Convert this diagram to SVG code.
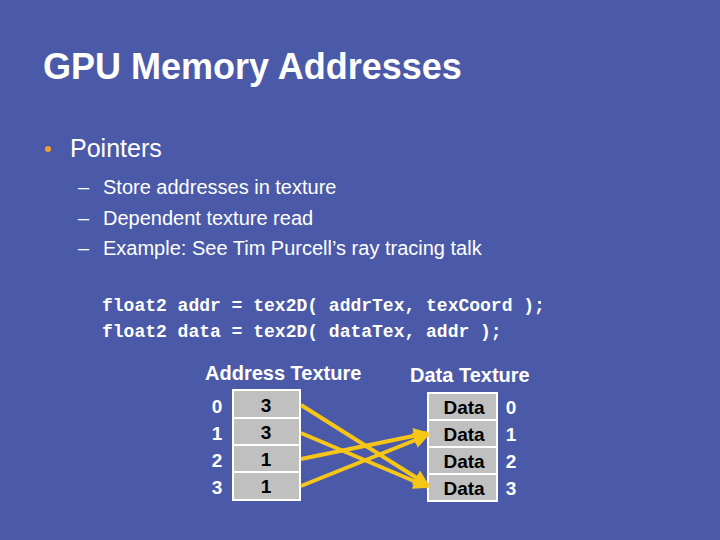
<svg xmlns="http://www.w3.org/2000/svg" width="720" height="540" viewBox="0 0 720 540">
<style>
.t{font-family:"Liberation Sans",Arial,sans-serif;fill:#fff}
.c{font-family:"Liberation Mono","Courier New",monospace;font-weight:bold;font-size:18px;fill:#fff}
.b{font-family:"Liberation Sans",Arial,sans-serif;font-weight:bold;font-size:19px}
.h{font-size:20px}
.cell{fill:#c0c0c0;stroke:#fff;stroke-width:2}
.arr{stroke:#f5c518;stroke-width:4;fill:none;marker-end:url(#ah)}
</style>
<defs>
<marker id="ah" viewBox="0 0 10 10" refX="9" refY="5" markerWidth="4" markerHeight="4" orient="auto" markerUnits="strokeWidth"><path d="M0,0L10,5L0,10z" fill="#f5c518"/></marker>
</defs>
<rect width="720" height="540" fill="#4b5aa8"/>
<text class="t" x="43" y="79" font-size="36" font-weight="bold">GPU Memory Addresses</text>
<circle cx="48" cy="149" r="3" fill="#f0a030"/>
<text class="t" x="70" y="157" font-size="25">Pointers</text>
<g class="t" font-size="20">
<text x="78" y="194">–</text><text x="103" y="194">Store addresses in texture</text>
<text x="78" y="225">–</text><text x="103" y="225">Dependent texture read</text>
<text x="78" y="255">–</text><text x="103" y="255">Example: See Tim Purcell’s ray tracing talk</text>
</g>
<text class="c" x="102" y="311" xml:space="preserve">float2 addr = tex2D( addrTex, texCoord );</text>
<text class="c" x="102" y="337" xml:space="preserve">float2 data = tex2D( dataTex, addr );</text>
<g id="addr">
<text class="t b h" x="205" y="380">Address Texture</text>
<rect class="cell" x="233" y="390" width="67" height="28"/>
<rect class="cell" x="233" y="418" width="67" height="27"/>
<rect class="cell" x="233" y="445" width="67" height="27"/>
<rect class="cell" x="233" y="472" width="67" height="28"/>
<g class="b" text-anchor="middle">
<text x="266" y="412">3</text><text x="266" y="439">3</text><text x="266" y="466">1</text><text x="266" y="493">1</text>
<text x="217" y="413" fill="#fff">0</text><text x="217" y="440" fill="#fff">1</text><text x="217" y="467" fill="#fff">2</text><text x="217" y="494" fill="#fff">3</text>
</g>
</g>
<g id="data">
<text class="t b h" x="410" y="382">Data Texture</text>
<rect class="cell" x="428" y="393" width="69" height="27"/>
<rect class="cell" x="428" y="420" width="69" height="27"/>
<rect class="cell" x="428" y="447" width="69" height="27"/>
<rect class="cell" x="428" y="474" width="69" height="27"/>
<g class="b" text-anchor="middle">
<text x="464" y="414">Data</text><text x="464" y="441">Data</text><text x="464" y="468">Data</text><text x="464" y="495">Data</text>
<text x="511" y="414" fill="#fff">0</text><text x="511" y="441" fill="#fff">1</text><text x="511" y="468" fill="#fff">2</text><text x="511" y="495" fill="#fff">3</text>
</g>
</g>
<g id="connectors">
<line class="arr" x1="301" y1="405" x2="428" y2="485"/>
<line class="arr" x1="301" y1="433" x2="428" y2="487"/>
<line class="arr" x1="301" y1="459" x2="428" y2="433"/>
<line class="arr" x1="301" y1="486" x2="428" y2="435"/>
</g>
</svg>
